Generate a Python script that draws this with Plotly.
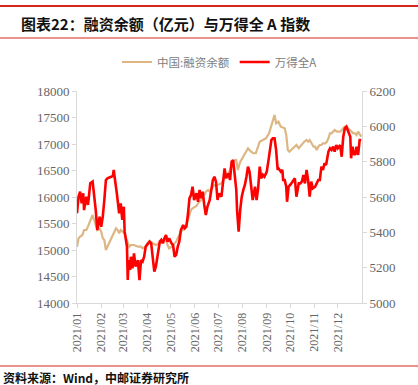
import plotly.graph_objects as go

# 中国:融资余额 (亿元) — left axis
margin_dates = [
    "2021-01-01","2021-01-03","2021-01-05","2021-01-08","2021-01-10","2021-01-13","2021-01-15","2021-01-17",
    "2021-01-19","2021-01-21","2021-01-23","2021-01-25","2021-01-27","2021-01-30","2021-02-01","2021-02-03",
    "2021-02-05","2021-02-07","2021-02-09","2021-02-11","2021-02-13","2021-02-16","2021-02-18","2021-02-20",
    "2021-02-22","2021-02-24","2021-02-26","2021-02-28","2021-03-03","2021-03-05","2021-03-07","2021-03-09",
    "2021-03-11","2021-03-15","2021-03-20","2021-03-24","2021-03-26","2021-03-30","2021-04-01","2021-04-04",
    "2021-04-08","2021-04-12","2021-04-17","2021-04-21","2021-04-25","2021-04-27","2021-04-29","2021-05-02",
    "2021-05-04","2021-05-06","2021-05-08","2021-05-10","2021-05-12","2021-05-14","2021-05-17","2021-05-19",
    "2021-05-21","2021-05-23","2021-05-25","2021-05-27","2021-05-29","2021-05-31","2021-06-03","2021-06-05",
    "2021-06-07","2021-06-09","2021-06-11","2021-06-13","2021-06-15","2021-06-18","2021-06-20","2021-06-22",
    "2021-06-24","2021-06-26","2021-06-30","2021-07-05","2021-07-09","2021-07-14","2021-07-18","2021-07-22",
    "2021-07-24","2021-07-26","2021-07-29","2021-08-01","2021-08-04","2021-08-08","2021-08-12","2021-08-15",
    "2021-08-18","2021-08-23","2021-08-27","2021-08-31","2021-09-04","2021-09-07","2021-09-11","2021-09-13",
    "2021-09-16","2021-09-19","2021-09-24","2021-09-26","2021-09-28","2021-09-30","2021-10-04","2021-10-09",
    "2021-10-12","2021-10-15","2021-10-19","2021-10-22","2021-10-24","2021-10-26","2021-10-29","2021-10-31",
    "2021-11-02","2021-11-04","2021-11-06","2021-11-08","2021-11-10","2021-11-12","2021-11-15","2021-11-17",
    "2021-11-19","2021-11-21","2021-11-23","2021-11-25","2021-11-27","2021-11-30","2021-12-02","2021-12-04",
    "2021-12-06","2021-12-08","2021-12-10","2021-12-12","2021-12-14","2021-12-17","2021-12-19","2021-12-21",
    "2021-12-23","2021-12-25","2021-12-27","2021-12-29","2021-12-31",
]
margin_values = [
    15062,15221,15251,15283,15377,15377,15440,15504,
    15598,15660,15566,15472,15377,15409,15345,15221,
    15189,15000,15062,15126,15189,15283,15345,15409,
    15377,15315,15377,15345,15315,15221,15126,15062,
    15094,15094,15062,15062,15032,15062,15126,15175,
    15126,15094,15126,15157,15189,15094,15032,15062,
    15094,15126,15157,15221,15283,15345,15377,15409,
    15472,15566,15660,15755,15787,15806,15830,15881,
    15911,15943,16006,16038,16100,16132,16100,16132,
    16194,16226,16226,16258,16353,16434,16604,16698,
    16698,16509,16660,16730,16825,16919,16855,16825,
    16825,17043,17075,17107,17202,17358,17547,17391,
    17421,17326,17296,17170,16887,16855,16919,16981,
    16919,16981,17043,17075,17043,17075,17013,16949,
    16949,16887,16949,16981,16981,17013,17013,17043,
    17107,17202,17202,17233,17264,17233,17233,17233,
    17264,17296,17327,17327,17296,17264,17233,17202,
    17202,17170,17233,17170,17138,
]

# 万得全A — right axis
index_dates = [
    "2021-01-01","2021-01-03","2021-01-05","2021-01-07","2021-01-09","2021-01-10","2021-01-13","2021-01-15",
    "2021-01-16","2021-01-18","2021-01-21","2021-01-23","2021-01-25","2021-01-27","2021-01-30","2021-02-01",
    "2021-02-03","2021-02-05","2021-02-07","2021-02-09","2021-02-13","2021-02-16","2021-02-17","2021-02-19",
    "2021-02-21","2021-02-24","2021-02-26","2021-02-28","2021-03-02","2021-03-03","2021-03-06","2021-03-07",
    "2021-03-08","2021-03-10","2021-03-11","2021-03-13","2021-03-15","2021-03-17","2021-03-20","2021-03-22",
    "2021-03-24","2021-03-26","2021-03-28","2021-03-30","2021-04-01","2021-04-04","2021-04-06","2021-04-08",
    "2021-04-10","2021-04-12","2021-04-15","2021-04-17","2021-04-19","2021-04-21","2021-04-23","2021-04-25",
    "2021-04-27","2021-04-29","2021-05-02","2021-05-04","2021-05-06","2021-05-08","2021-05-10","2021-05-12",
    "2021-05-14","2021-05-17","2021-05-19","2021-05-21","2021-05-23","2021-05-25","2021-05-27","2021-05-29",
    "2021-05-31","2021-06-03","2021-06-05","2021-06-07","2021-06-09","2021-06-11","2021-06-13","2021-06-15",
    "2021-06-17","2021-06-20","2021-06-22","2021-06-24","2021-06-26","2021-06-28","2021-06-30","2021-07-02",
    "2021-07-05","2021-07-07","2021-07-09","2021-07-11","2021-07-14","2021-07-16","2021-07-18","2021-07-20",
    "2021-07-22","2021-07-24","2021-07-25","2021-07-27","2021-07-29","2021-07-31","2021-08-02","2021-08-04",
    "2021-08-06","2021-08-08","2021-08-10","2021-08-12","2021-08-14","2021-08-17","2021-08-19","2021-08-21",
    "2021-08-23","2021-08-25","2021-08-27","2021-08-29","2021-09-01","2021-09-03","2021-09-05","2021-09-07",
    "2021-09-09","2021-09-11","2021-09-13","2021-09-15","2021-09-16","2021-09-19","2021-09-21","2021-09-22",
    "2021-09-24","2021-09-26","2021-09-27","2021-09-29","2021-10-02","2021-10-05","2021-10-07","2021-10-09",
    "2021-10-12","2021-10-14","2021-10-16","2021-10-18","2021-10-20","2021-10-22","2021-10-24","2021-10-26",
    "2021-10-28","2021-10-30","2021-11-02","2021-11-04","2021-11-06","2021-11-08","2021-11-10","2021-11-12",
    "2021-11-14","2021-11-16","2021-11-19","2021-11-21","2021-11-23","2021-11-25","2021-11-27","2021-11-29",
    "2021-12-01","2021-12-04","2021-12-06","2021-12-08","2021-12-10","2021-12-12","2021-12-14","2021-12-17",
    "2021-12-18","2021-12-20","2021-12-21","2021-12-23","2021-12-25","2021-12-27","2021-12-29","2021-12-31",
]
index_values = [
    5508,5602,5630,5564,5621,5526,5602,5555,
    5593,5678,5687,5621,5526,5413,5489,5432,
    5489,5583,5696,5706,5712,5719,5753,5696,
    5621,5508,5564,5470,5545,5404,5319,5130,
    5243,5187,5262,5196,5281,5206,5243,5130,
    5243,5234,5262,5319,5328,5347,5338,5243,
    5177,5206,5281,5347,5357,5338,5366,5385,
    5347,5366,5338,5328,5262,5272,5319,5347,
    5413,5441,5423,5432,5498,5592,5611,5658,
    5583,5621,5573,5640,5593,5630,5555,5498,
    5545,5583,5640,5696,5715,5687,5583,5620,
    5602,5696,5762,5706,5734,5696,5800,5809,
    5734,5640,5526,5404,5526,5602,5640,5668,
    5715,5772,5743,5668,5583,5658,5583,5649,
    5772,5706,5725,5715,5743,5800,5866,5923,
    5932,5932,5866,5753,5762,5743,5753,5696,
    5696,5658,5573,5658,5674,5696,5706,5602,
    5677,5677,5687,5725,5677,5753,5696,5602,
    5687,5649,5658,5677,5696,5696,5772,5753,
    5791,5781,5857,5876,5866,5885,5857,5894,
    5876,5894,5828,5941,5989,5998,5970,5941,
    5819,5885,5847,5838,5885,5838,5923,5923,
]

tick_vals = ["2021-01-01","2021-02-01","2021-03-01","2021-04-01","2021-05-01","2021-06-01",
             "2021-07-01","2021-08-01","2021-09-01","2021-10-01","2021-11-01","2021-12-01"]
tick_text = ["2021/01","2021/02","2021/03","2021/04","2021/05","2021/06",
             "2021/07","2021/08","2021/09","2021/10","2021/11","2021/12"]

W, H = 418, 385
L, R, T, B = 77, 56, 91, 82
pw, ph = W - L - R, H - T - B

def px_x(x):
    return (x - L) / pw

def px_y(y):
    return (H - B - y) / ph

fig = go.Figure()
fig.add_trace(go.Scatter(x=margin_dates, y=margin_values, name="中国:融资余额",
                         mode="lines", line=dict(color="#DDB683", width=2.2), yaxis="y"))
fig.add_trace(go.Scatter(x=index_dates, y=index_values, name="万得全A",
                         mode="lines", line=dict(color="#FF0000", width=2.6), yaxis="y2"))

axis_font = dict(family="Liberation Serif", size=13, color="#666666")
fig.update_layout(
    width=W, height=H,
    margin=dict(l=L, r=R, t=T, b=B),
    paper_bgcolor="white", plot_bgcolor="white",
    showlegend=True,
    legend=dict(orientation="h", x=0.5, xanchor="center", y=px_y(62), yanchor="middle",
                font=dict(family="Noto Sans CJK SC", size=11.5, color="#808080"),
                itemwidth=30, tracegroupgap=0, bgcolor="rgba(0,0,0,0)"),
    xaxis=dict(type="date", range=["2021-01-01", "2022-01-01"],
               tickmode="array", tickvals=tick_vals, ticktext=tick_text,
               tickangle=-90, tickfont=dict(family="Liberation Serif", size=12, color="#666666"),
               showgrid=False, showline=True, linecolor="#D9D9D9", linewidth=1,
               ticks="outside", ticklen=4, tickcolor="#D9D9D9", zeroline=False),
    yaxis=dict(range=[14000, 18000], dtick=500, tickformat="d", tickfont=axis_font,
               showgrid=False, showline=True, linecolor="#D9D9D9", linewidth=1,
               ticks="outside", ticklen=4, tickcolor="#D9D9D9", zeroline=False),
    yaxis2=dict(range=[5000, 6200], dtick=200, tickformat="d", tickfont=axis_font,
                overlaying="y", side="right",
                showgrid=False, showline=True, linecolor="#D9D9D9", linewidth=1,
                ticks="outside", ticklen=4, tickcolor="#D9D9D9", zeroline=False),
)

line_color = "#D9261C"
fig.add_shape(type="line", xref="paper", yref="paper", x0=px_x(0), x1=px_x(W),
              y0=px_y(6), y1=px_y(6), line=dict(color=line_color, width=2))
fig.add_shape(type="line", xref="paper", yref="paper", x0=px_x(0), x1=px_x(W),
              y0=px_y(38), y1=px_y(38), line=dict(color=line_color, width=1))
fig.add_shape(type="line", xref="paper", yref="paper", x0=px_x(0), x1=px_x(W),
              y0=px_y(366), y1=px_y(366), line=dict(color=line_color, width=1.2))

fig.add_annotation(text="<b>图表22：融资余额（亿元）与万得全 A 指数</b>", xref="paper", yref="paper",
                   x=px_x(19), y=px_y(23), xanchor="left", yanchor="middle", showarrow=False,
                   font=dict(family="Noto Sans CJK SC", size=15, color="#111111"))
fig.add_annotation(text="<b>资料来源：Wind，中邮证券研究所</b>", xref="paper", yref="paper",
                   x=px_x(1), y=px_y(377), xanchor="left", yanchor="middle", showarrow=False,
                   font=dict(family="Noto Sans CJK SC", size=12, color="#111111"))

fig.write_html("out.html", config={"displayModeBar": False},
               post_script="document.body.style.margin='0px';document.body.style.overflow='hidden';")
